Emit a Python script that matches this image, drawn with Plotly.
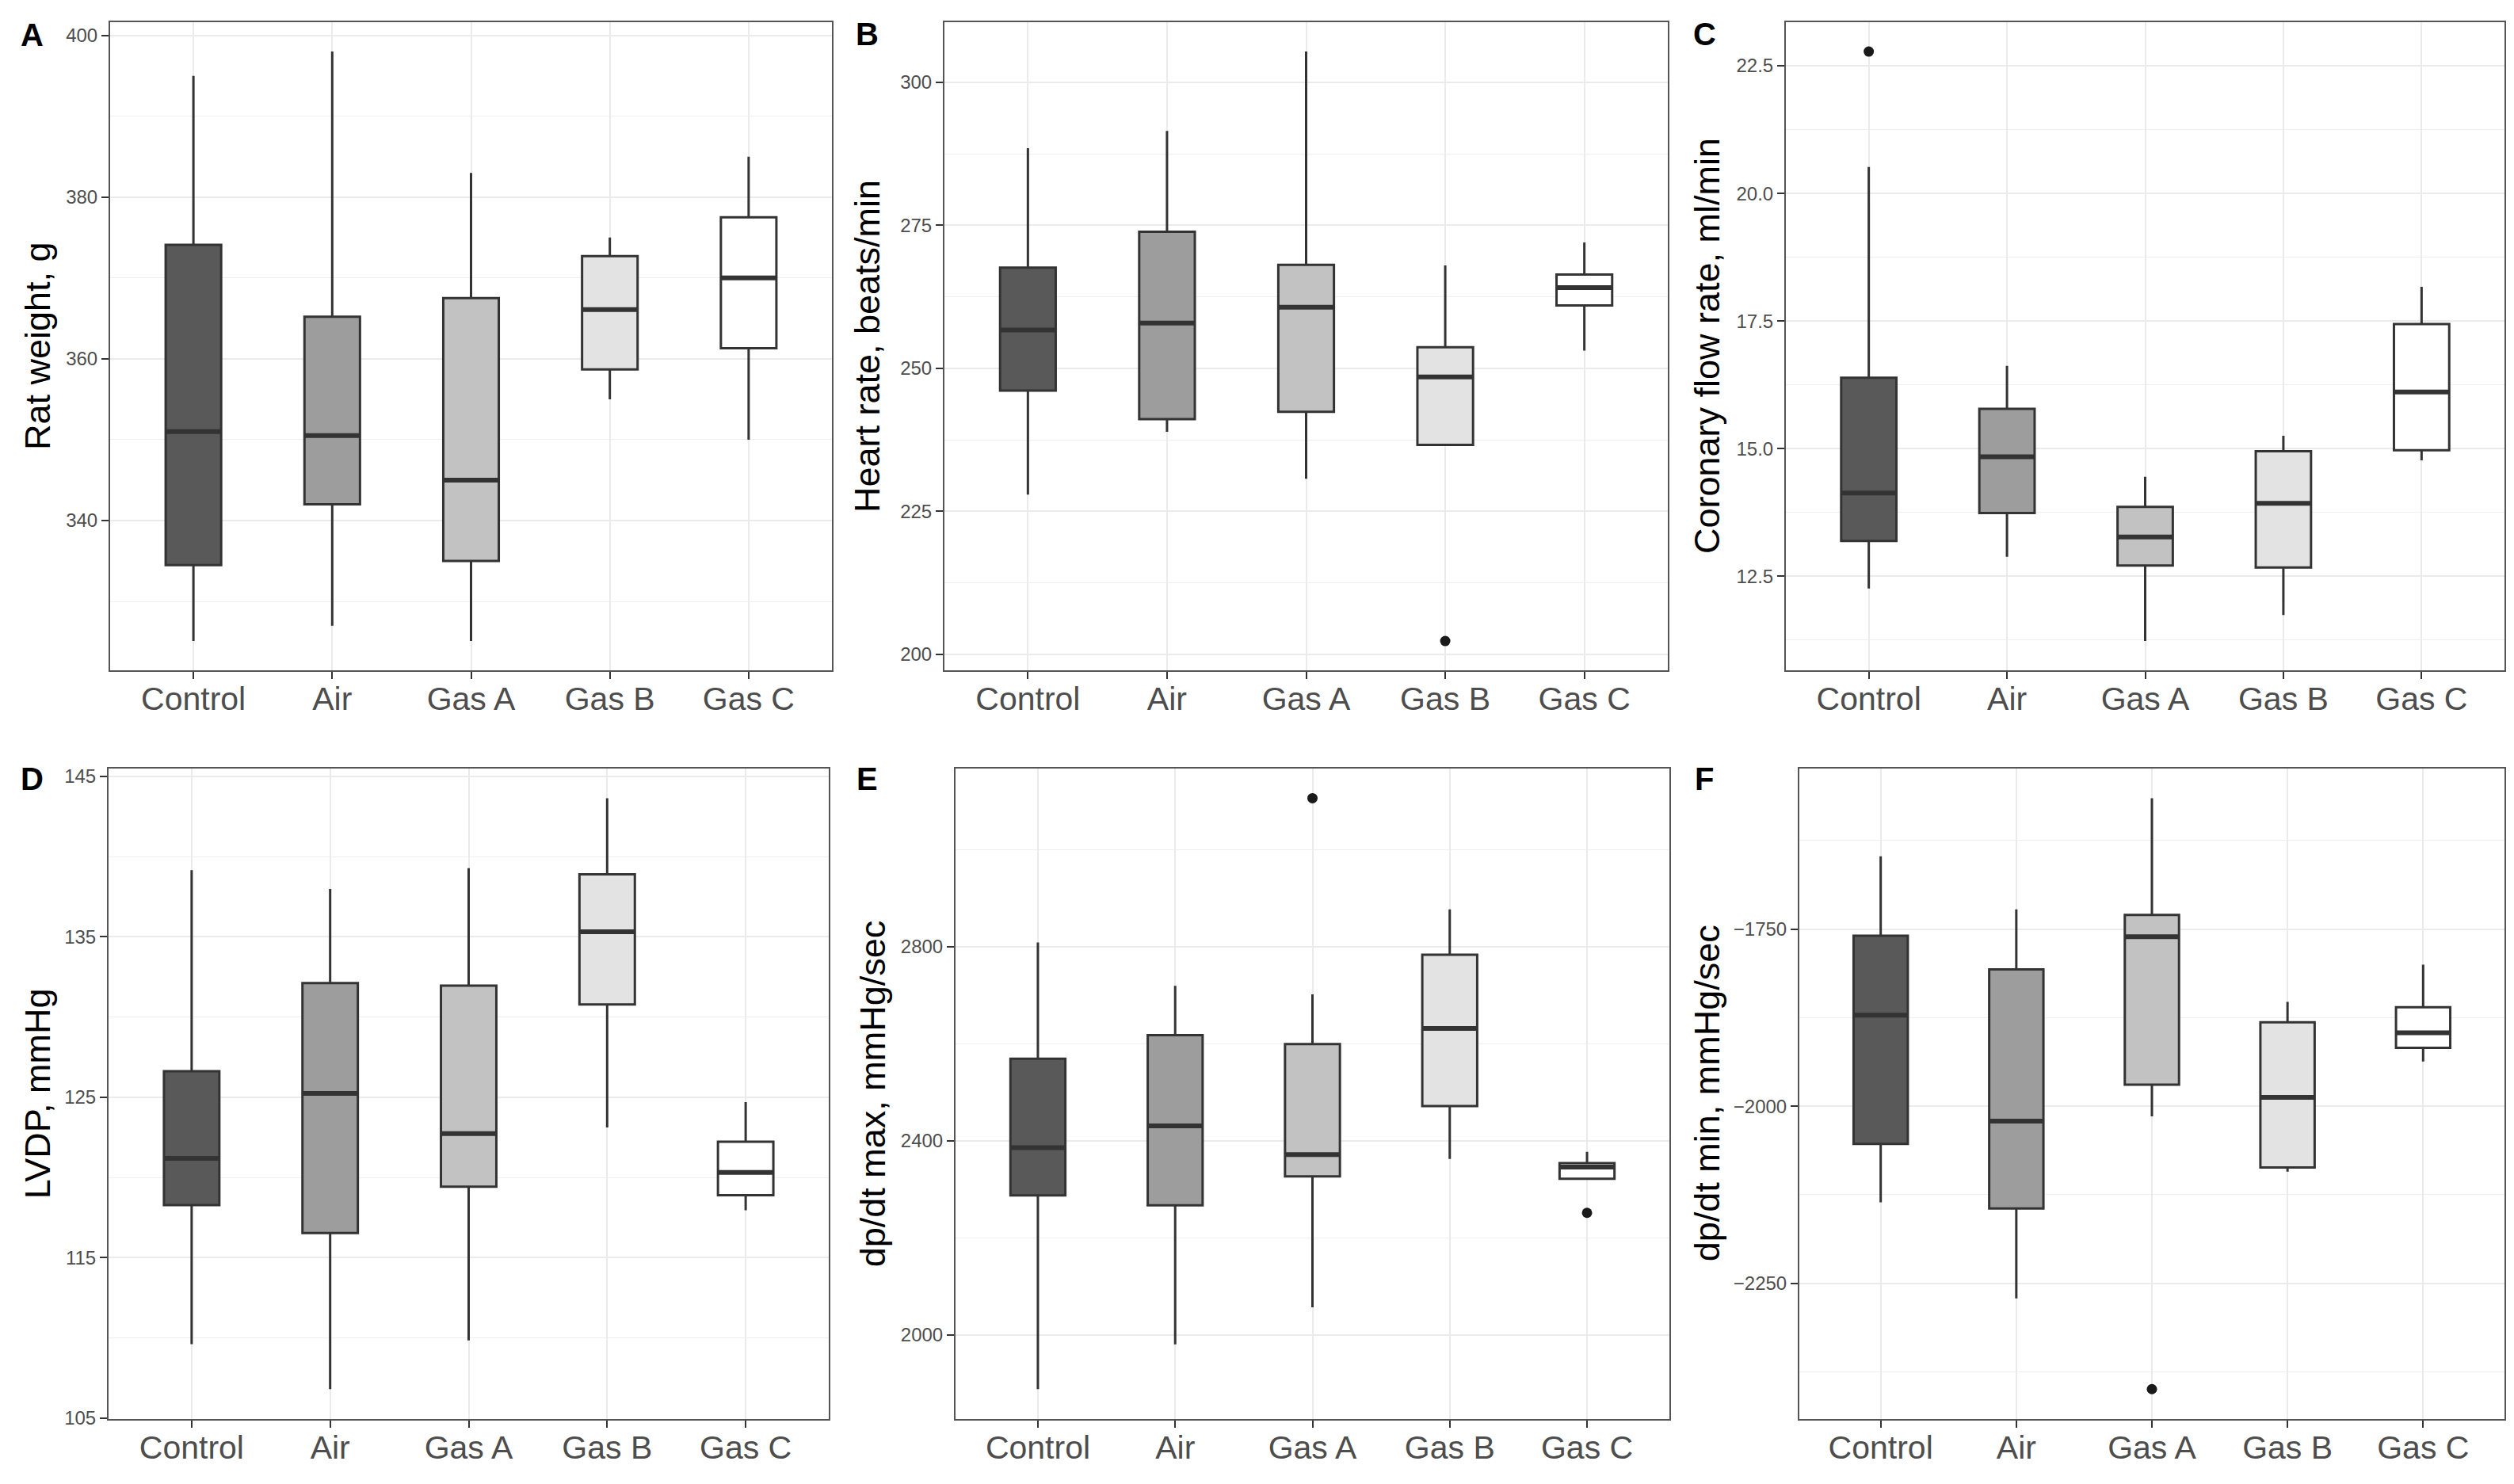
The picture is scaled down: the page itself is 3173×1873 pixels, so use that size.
import plotly.graph_objects as go

GROUPS = ["Control", "Air", "Gas A", "Gas B", "Gas C"]
FILLS = ["#595959", "#9d9d9d", "#c2c2c2", "#e3e3e3", "#ffffff"]

# Panel A - Rat weight, g
weight_low = [325.1, 327.0, 325.1, 355.0, 350.0]
weight_q1 = [334.5, 342.0, 335.0, 358.7, 361.3]
weight_med = [351.0, 350.5, 345.0, 366.1, 370.0]
weight_q3 = [374.1, 365.2, 367.5, 372.7, 377.5]
weight_high = [395.0, 398.0, 383.0, 375.0, 385.0]
weight_out_grp = []
weight_out_val = []

# Panel B - Heart rate, beats/min
hr_low = [227.9, 238.9, 230.7, 236.6, 253.1]
hr_q1 = [246.1, 241.1, 242.4, 236.6, 261.0]
hr_med = [256.7, 257.9, 260.7, 248.5, 264.1]
hr_q3 = [267.6, 273.9, 268.1, 253.7, 266.4]
hr_high = [288.5, 291.5, 305.4, 268.0, 272.0]
hr_out_grp = ["Gas B"]
hr_out_val = [202.3]

# Panel C - Coronary flow rate, ml/min
cf_low = [12.26, 12.88, 11.23, 11.74, 14.77]
cf_q1 = [13.19, 13.74, 12.71, 12.67, 14.97]
cf_med = [14.13, 14.84, 13.27, 13.93, 16.11]
cf_q3 = [16.39, 15.78, 13.86, 14.95, 17.44]
cf_high = [20.52, 16.62, 14.45, 15.25, 18.17]
cf_out_grp = ["Control"]
cf_out_val = [22.78]

# Panel D - LVDP, mmHg
lvdp_low = [109.6, 106.8, 109.84, 123.11, 117.95]
lvdp_q1 = [118.27, 116.53, 119.42, 130.78, 118.89]
lvdp_med = [121.19, 125.24, 122.73, 135.32, 120.31]
lvdp_q3 = [126.62, 132.11, 131.96, 138.89, 122.23]
lvdp_high = [139.16, 137.98, 139.28, 143.64, 124.7]
lvdp_out_grp = []
lvdp_out_val = []

# Panel E - dp/dt max, mmHg/sec
dpmax_low = [1888.0, 1980.5, 2056.5, 2362.5, 2321.6]
dpmax_q1 = [2287.5, 2267.0, 2326.4, 2471.6, 2321.6]
dpmax_med = [2385.9, 2430.7, 2371.3, 2631.4, 2345.9]
dpmax_q3 = [2569.1, 2617.8, 2599.3, 2783.4, 2353.7]
dpmax_high = [2808.8, 2719.1, 2701.6, 2877.0, 2377.1]
dpmax_out_grp = ["Gas A", "Gas C"]
dpmax_out_val = [3106.0, 2251.4]

# Panel F - dp/dt min, mmHg/sec
dpmin_low = [-2135.8, -2271.4, -2014.4, -2092.5, -1936.9]
dpmin_q1 = [-2053.1, -2144.5, -1969.6, -2086.4, -1917.6]
dpmin_med = [-1871.5, -2021.0, -1760.7, -1987.6, -1896.2]
dpmin_q3 = [-1759.3, -1806.7, -1730.0, -1881.5, -1860.1]
dpmin_high = [-1647.2, -1722.0, -1565.1, -1852.8, -1800.1]
dpmin_out_grp = ["Gas A"]
dpmin_out_val = [-2399.5]

TITLES = ["Rat weight, g", "Heart rate, beats/min", "Coronary flow rate, ml/min",
          "LVDP, mmHg", "dp/dt max, mmHg/sec", "dp/dt min, mmHg/sec"]
LETTERS = ["A", "B", "C", "D", "E", "F"]

panels = [
    (weight_low, weight_q1, weight_med, weight_q3, weight_high, weight_out_grp, weight_out_val),
    (hr_low, hr_q1, hr_med, hr_q3, hr_high, hr_out_grp, hr_out_val),
    (cf_low, cf_q1, cf_med, cf_q3, cf_high, cf_out_grp, cf_out_val),
    (lvdp_low, lvdp_q1, lvdp_med, lvdp_q3, lvdp_high, lvdp_out_grp, lvdp_out_val),
    (dpmax_low, dpmax_q1, dpmax_med, dpmax_q3, dpmax_high, dpmax_out_grp, dpmax_out_val),
    (dpmin_low, dpmin_q1, dpmin_med, dpmin_q3, dpmin_high, dpmin_out_grp, dpmin_out_val),
]

# tick settings (tick0, dtick, format)
TICKS = [(0, 20, "d"), (0, 25, "d"), (0, 2.5, ".1f"), (5, 10, "d"), (0, 400, "d"), (0, 250, "d")]

# page layout in window pixels (left, right, top, bottom); page body has an 8px margin
PAGE_W, PAGE_H, OFF = 3173, 1873, 8
W, H = PAGE_W - 2 * OFF, PAGE_H - 2 * OFF
BOXES = [
    (139, 1050, 24, 850), (1192, 2105, 24, 850), (2254, 3161, 24, 850),
    (137, 1046, 975, 1803), (1206, 2107, 975, 1803), (2271, 3161, 975, 1803),
]
TITLE_X = [47, 1094, 2154, 47, 1101, 2154]
LETTER_POS = [(40, 40), (1094, 39), (2151, 39), (40, 988), (1094, 988), (2151, 988)]

BOX_W = 0.4
LINE_C = "#333333"
BORDER_C = "#555555"
GRID_C = "#ebebeb"
TICK_C = "#4d4d4d"
FONT = "Liberation Sans, Arial, sans-serif"


def fx(px):
    return (px - OFF) / W


def fy(py):
    return 1 - (py - OFF) / H


fig = go.Figure()
annotations = []
layout_axes = {}

for p, (low, q1, med, q3, high, ogrp, oval) in enumerate(panels):
    n = "" if p == 0 else str(p + 1)
    xref, yref = "x" + n, "y" + n
    pos = list(range(len(GROUPS)))
    for i, g in enumerate(GROUPS):
        fig.add_trace(go.Box(
            x=[pos[i]], q1=[q1[i]], median=[med[i]], q3=[q3[i]],
            lowerfence=[low[i]], upperfence=[high[i]],
            width=BOX_W, whiskerwidth=0, boxpoints=False,
            fillcolor=FILLS[i], line=dict(color=LINE_C, width=3),
            xaxis=xref, yaxis=yref, showlegend=False, hoverinfo="skip",
        ))
        fig.add_trace(go.Scatter(
            x=[pos[i] - BOX_W / 2, pos[i] + BOX_W / 2], y=[med[i], med[i]],
            mode="lines", line=dict(color=LINE_C, width=6),
            xaxis=xref, yaxis=yref, showlegend=False, hoverinfo="skip",
        ))
    if oval:
        fig.add_trace(go.Scatter(
            x=[GROUPS.index(g) for g in ogrp], y=oval, mode="markers",
            marker=dict(color="#1a1a1a", size=13),
            xaxis=xref, yaxis=yref, showlegend=False, hoverinfo="skip",
        ))
    allv = low + high + oval
    lo, hi = min(allv), max(allv)
    pad = (hi - lo) * 0.05
    l, r, t, b = BOXES[p]
    t0, dt, fmt = TICKS[p]
    layout_axes["xaxis" + n] = dict(
        domain=[fx(l), fx(r)], anchor=yref, range=[-0.6, len(GROUPS) - 0.4],
        tickvals=pos, ticktext=GROUPS, showgrid=True, gridcolor=GRID_C, gridwidth=2,
        zeroline=False, showline=True, mirror=True, linecolor=BORDER_C, linewidth=2,
        ticks="outside", ticklen=9, tickwidth=2, tickcolor=LINE_C, ticklabelstandoff=-10,
        tickfont=dict(size=41, color=TICK_C, family=FONT),
    )
    layout_axes["yaxis" + n] = dict(
        domain=[fy(b), fy(t)], anchor=xref, range=[lo - pad, hi + pad],
        tick0=t0, dtick=dt, tickformat=fmt, showgrid=True, gridcolor=GRID_C, gridwidth=2,
        minor=dict(tick0=t0, dtick=dt / 2, showgrid=True, gridcolor="#efefef", gridwidth=1),
        zeroline=False, showline=True, mirror=True, linecolor=BORDER_C, linewidth=2,
        ticks="outside", ticklen=9, tickwidth=2, tickcolor=LINE_C,
        tickfont=dict(size=24, color=TICK_C, family=FONT),
    )
    annotations.append(dict(
        text=TITLES[p], x=fx(TITLE_X[p]), y=fy((t + b) / 2), xref="paper", yref="paper",
        showarrow=False, textangle=-90, xanchor="center", yanchor="middle",
        font=dict(size=45, color="#000000", family=FONT),
    ))
    lx, ly = LETTER_POS[p]
    annotations.append(dict(
        text="<b>" + LETTERS[p] + "</b>", x=fx(lx), y=fy(ly), xref="paper", yref="paper",
        showarrow=False, xanchor="center", yanchor="middle",
        font=dict(size=40, color="#000000", family=FONT),
    ))

fig.update_layout(
    width=W, height=H, margin=dict(l=0, r=0, t=0, b=0),
    paper_bgcolor="#ffffff", plot_bgcolor="#ffffff",
    annotations=annotations, showlegend=False, **layout_axes,
)

fig.write_html("out.html")
